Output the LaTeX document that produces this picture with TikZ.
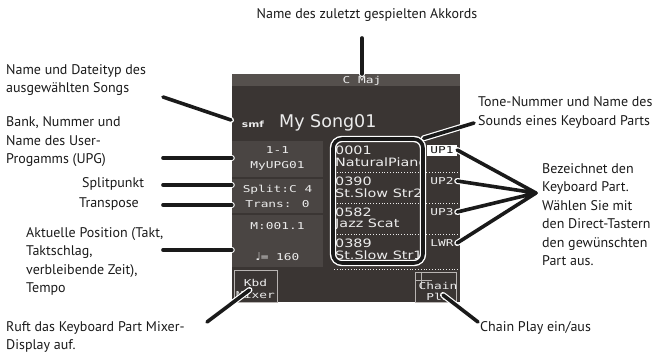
\documentclass[tikz,border=0pt]{standalone}
\usepackage{fontspec}
\setmainfont{PT Sans}
\newfontfamily\lcdfont[FakeStretch=1.35]{DejaVu Sans Mono}
\newfontfamily\tonefont[FakeStretch=1.25]{DejaVu Sans}
\newfontfamily\notefont{DejaVu Sans}
\usetikzlibrary{positioning,calc}
\definecolor{ink}{HTML}{1A1A1A}
\definecolor{screen}{HTML}{3A3533}
\definecolor{screenbar}{HTML}{55504D}
\definecolor{screenbox}{HTML}{4A4543}
\definecolor{lcdtext}{HTML}{ECECEC}
\definecolor{keyline}{HTML}{B8B4B2}
\tikzset{
  callout/.style={font=\fontsize{14}{18.5}\selectfont,text=ink,align=left,
                  inner sep=0pt,anchor=west},
  lcd/.style={font=\lcdfont\fontsize{9.5}{15}\selectfont,text=lcdtext,
              inner sep=0pt,align=center},
  tonetext/.style={font=\tonefont\fontsize{11.5}{12}\selectfont,text=lcdtext,
                   inner sep=0pt,anchor=west},
  panelbox/.style={fill=screenbox,minimum width=91pt,inner sep=0pt},
  tab/.style={lcd,minimum width=30pt,minimum height=11pt},
  softkey/.style={draw=keyline,line width=0.8pt,fill=screen,inner sep=0pt},
  sepline/.style={draw=lcdtext,dotted,line width=0.8pt},
  listframe/.style={draw=white,double=ink,double distance=3.6pt,line width=1.4pt,
                    rounded corners=9pt,inner sep=0pt},
  leader/.style={draw=ink,line width=3.6pt,line cap=round,
                 preaction={draw=white,line width=6pt,line cap=round}}
}
\begin{document}
\begin{tikzpicture}[x=1pt,y=-1pt]
  \useasboundingbox (0,0) rectangle (659,356);

  % display
  \node[fill=screen,minimum width=228pt,minimum height=228pt,inner sep=0pt]
    (display) at (346,188) {};
  \node[fill=screenbar,minimum width=228pt,minimum height=12pt,inner sep=0pt]
    (chordbar) at (346,80) {};
  \node[lcd] (chord) at (362,80.5) {C Maj};
  \node[font=\tonefont\bfseries\fontsize{8.5}{9}\selectfont,text=lcdtext,inner sep=0pt]
    (smf) at (253,124) {smf};
  \node[font=\notefont\fontsize{17.5}{18}\selectfont,text=lcdtext,inner sep=0pt,anchor=west]
    (song) at (279,122.5) {My Song01};

  \node[panelbox,minimum height=36pt] (bank) at (277.5,159) {};
  \node[lcd] (banktext) at (bank) {1-1\\MyUPG01};
  \node[panelbox,minimum height=34pt] (split) at (277.5,196) {};
  \node[lcd] (splittext) at (split) {Split:C 4\\Trans: 0};
  \node[panelbox,minimum height=52pt] (pos) at (277.5,241) {};
  \node[lcd] (measure) at (277.5,226) {M:001.1};
  \node[lcd] (tempo) at (277.5,257) {{\notefont\fontsize{11}{11}\selectfont\char"2669}= 160};

  % tone list
  \foreach \y in {172,203,234,269}
    \draw[sepline] (334,\y) -- (460,\y);
  \begin{scope}
    \clip (336,142) rectangle (420,258);
    \foreach \num/\name [count=\i] in {0001/NaturalPiano,0390/St.Slow Str2,
                                       0582/Jazz Scat,0389/St.Slow Str1}{
      \node[tonetext] (num-\i) at (335,{141+31*(\i-1)+9}) {\num};
      \node[tonetext] (name-\i) at (335,{141+31*(\i-1)+21.5}) {\name};
    }
  \end{scope}
  \node[listframe,minimum width=90pt,minimum height=124pt] (tonelist) at (378,201) {};

  \node[tab,fill=white,text=ink] (up1) at (442,150) {UP1};
  \node[tab] (up2) at (442,181) {UP2};
  \node[tab] (up3) at (442,212) {UP3};
  \node[tab] (lwr) at (442,243) {LWR};

  % soft keys
  \node[softkey,minimum width=43pt,minimum height=32pt] (kbd) at (255.5,286) {};
  \node[lcd,font=\lcdfont\fontsize{9.5}{11.5}\selectfont] (kbdtext) at (255.5,289) {Kbd\\Mixer};
  \node[softkey,minimum width=41pt,minimum height=30pt] (chain) at (435.5,287) {};
  \draw[keyline,line width=0.8pt] (421,272) -- (421,289) (415,280) -- (432,280);
  \node[lcd,font=\lcdfont\fontsize{9.5}{11}\selectfont] (chaintext) at (438,291.5) {Chain\\Pla};

  % callouts
  \node[callout,anchor=center] (akkord) at (367,15) {Name des zuletzt gespielten Akkords};
  \node[callout] (songinfo) at (6,80) {Name und Dateityp des\\ausgewählten Songs};
  \node[callout] (upginfo) at (6,142) {Bank, Nummer und\\Name des User-\\Progamms (UPG)};
  \node[callout] (splitinfo) at (82,184) {Splitpunkt};
  \node[callout] (transinfo) at (79,204) {Transpose};
  \node[callout] (posinfo) at (26,261.5) {Aktuelle Position (Takt,\\Taktschlag,\\verbleibende Zeit),\\Tempo};
  \node[callout] (mixerinfo) at (6,337) {Ruft das Keyboard Part Mixer-\\Display auf.};
  \node[callout] (toneinfo) at (478,112.5) {Tone-Nummer und Name des\\Sounds eines Keyboard Parts};
  \node[callout] (partinfo) at (542,214.5) {Bezeichnet den\\Keyboard Part.\\Wählen Sie mit\\den Direct-Tastern\\den gewünschten\\Part aus.};
  \node[callout] (chaininfo) at (480,328) {Chain Play ein/aus};

  % leader lines
  \coordinate (akkordpin) at (362,38);
  \coordinate (chordpin) at (362,74);
  \coordinate (songpin) at (163,97);
  \coordinate (songend) at (231,120);
  \coordinate (hub) at (536,193);
  \draw[leader] (akkordpin) -- (chordpin);
  \draw[leader] (songpin) -- (songend);
  \draw[leader] (163,158) coordinate (upgpin) -- (upgpin -| bank.west);
  \draw[leader] (163,185) coordinate (splitpin) -- (splitpin -| split.west);
  \draw[leader] (163,205) coordinate (transpin) -- (transpin -| split.west);
  \draw[leader] (163,250) coordinate (pospin) -- (pospin -| pos.west);
  \draw[leader] (207,322) coordinate (mixerpin) -- ($(kbd.center)+(-6,4)$);
  \draw[leader] (474,123) coordinate (tonepin) -- (tonelist.north east);
  \draw[leader] (hub) -- (up1.east) (hub) -- (up2.east)
                (hub) -- (up3.east) (hub) -- (lwr.east);
  \draw[leader] (478,322) coordinate (chainpin) -- ($(chain.center)+(7.5,8)$);
\end{tikzpicture}
\end{document}
